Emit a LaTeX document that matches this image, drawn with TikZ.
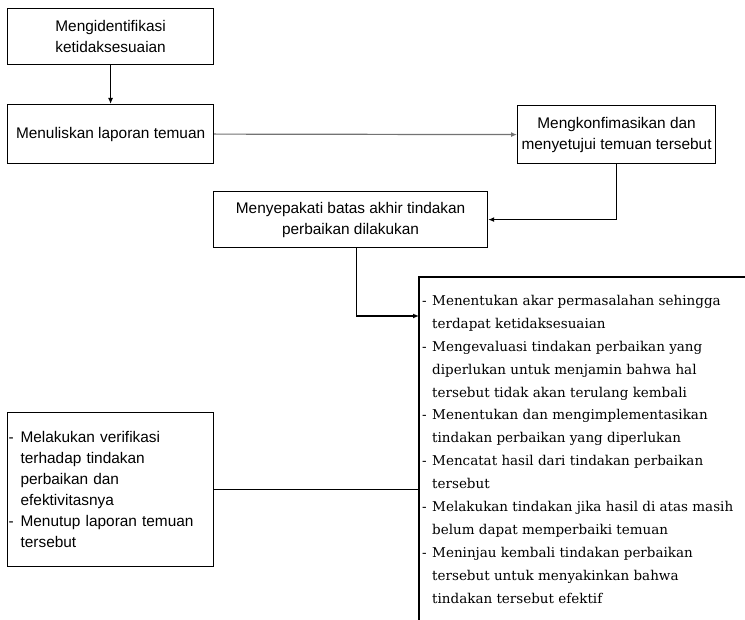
\documentclass[tikz,border=0pt]{standalone}
\usepackage{fontspec}
\setmainfont{Liberation Sans}
\newfontfamily\listfont{DejaVu Serif}
\usetikzlibrary{arrows.meta,calc}

\begin{document}
\begin{tikzpicture}[x=1pt,y=-1pt,
  box/.style={draw,line width=1.2pt,anchor=north west,inner sep=0pt,align=center,
              font=\fontsize{15.4}{21}\selectfont},
  conn/.style={line width=1.2pt},
  tip/.style={-{Latex[length=6pt,width=5pt]}}]
\useasboundingbox (0,0) rectangle (745,620);
\fill[white] (0,0) rectangle (745,620);

% process boxes
\node[box,minimum width=206pt,minimum height=56pt] (b1) at (7,8)
  {Mengidentifikasi\\ketidaksesuaian};
\node[box,minimum width=206pt,minimum height=59pt] (b2) at (7,104)
  {Menuliskan laporan temuan};
\node[box,minimum width=198pt,minimum height=58pt] (b3) at (517,105)
  {Mengkonfimasikan dan\\menyetujui temuan tersebut};
\node[box,minimum width=274pt,minimum height=56pt] (b4) at (213,191)
  {Menyepakati batas akhir tindakan\\perbaikan dilakukan};
\node[box,minimum width=206pt,minimum height=154pt,align=left,text width=204pt] (b5) at (7,412)
  {\makebox[12pt][l]{-}Melakukan verifikasi\\
   \hspace*{12pt}terhadap tindakan\\
   \hspace*{12pt}perbaikan dan\\
   \hspace*{12pt}efektivitasnya\\
   \makebox[12pt][l]{-}Menutup laporan temuan\\
   \hspace*{12pt}tersebut};

% open box with the corrective steps
\coordinate (tr) at (745,277);
\coordinate (tl) at (419,277);
\coordinate (bl) at (419,620);
\draw[line width=1.2pt] (tr) -- (tl) -- (bl);
\node[anchor=north west,inner sep=0pt,align=left,
      font=\listfont\fontsize{13.5}{22.9}\selectfont] (steps) at (422,295)
  {\makebox[10pt][l]{-}Menentukan akar permasalahan sehingga\\
   \hspace*{10pt}terdapat ketidaksesuaian\\
   \makebox[10pt][l]{-}Mengevaluasi tindakan perbaikan yang\\
   \hspace*{10pt}diperlukan untuk menjamin bahwa hal\\
   \hspace*{10pt}tersebut tidak akan terulang kembali\\
   \makebox[10pt][l]{-}Menentukan dan mengimplementasikan\\
   \hspace*{10pt}tindakan perbaikan yang diperlukan\\
   \makebox[10pt][l]{-}Mencatat hasil dari tindakan perbaikan\\
   \hspace*{10pt}tersebut\\
   \makebox[10pt][l]{-}Melakukan tindakan jika hasil di atas masih\\
   \hspace*{10pt}belum dapat memperbaiki temuan\\
   \makebox[10pt][l]{-}Meninjau kembali tindakan perbaikan\\
   \hspace*{10pt}tersebut untuk menyakinkan bahwa\\
   \hspace*{10pt}tindakan tersebut efektif};

\coordinate (stepsin) at (419,316);
\coordinate (stepsfrom) at (419,489);

% connectors
\draw[conn,tip] (b1.south) -- (b2.north);
\draw[conn,tip,draw=black!55] (b2.east) -- (b3.west);
\draw[conn,tip] (b3.south) |- (b4.east);
\draw[conn,tip] ($(b4.south)+(6,0)$) |- (stepsin);
\draw[conn] (b5.east) -- (b5.east -| stepsfrom);
\end{tikzpicture}
\end{document}
